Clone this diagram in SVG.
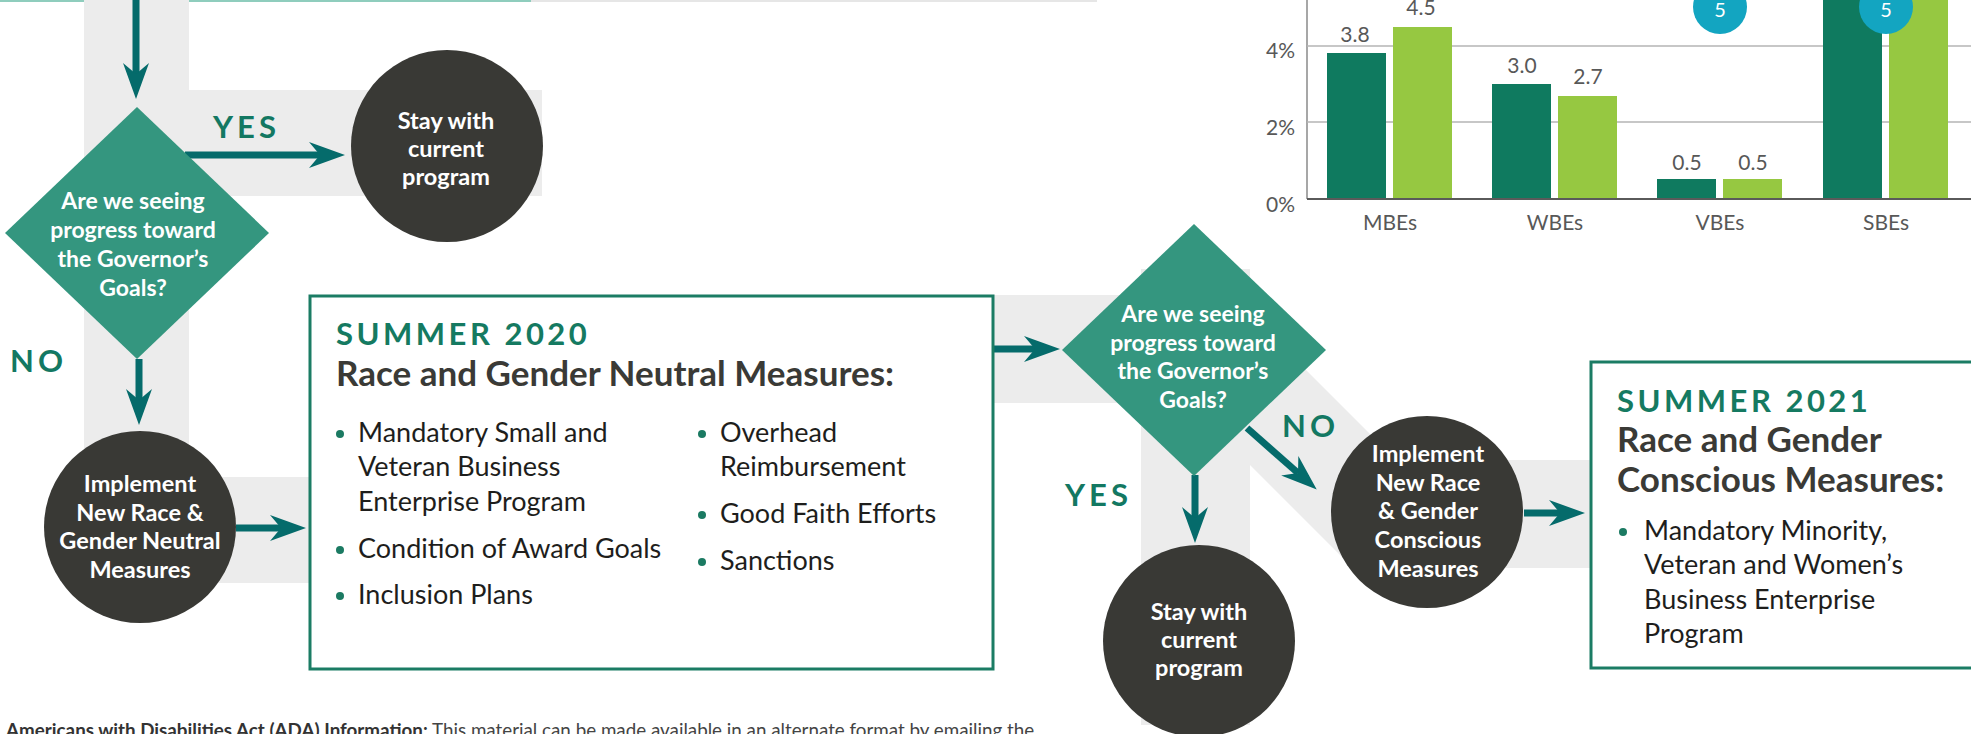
<svg xmlns="http://www.w3.org/2000/svg" width="1971" height="734" viewBox="0 0 1971 734">
<defs>
<style>
.band{fill:#ececec}
.conn{stroke:#056b6b;stroke-width:7;fill:none;marker-end:url(#ah)}
.dia{fill:#34967f}
.circ{fill:#393935}
.wt{font-family:Lato,"Liberation Sans",sans-serif;font-weight:700;font-size:23.5px;fill:#ffffff;text-anchor:middle}
.wd{font-family:Lato,"Liberation Sans",sans-serif;font-weight:700;font-size:23px;fill:#ffffff;text-anchor:middle}
.lbl{font-family:Lato,"Liberation Sans",sans-serif;font-weight:700;font-size:31px;fill:#137862;letter-spacing:4px}
.box{fill:#ffffff;stroke:#1b7c64;stroke-width:3}
.season{font-family:Lato,"Liberation Sans",sans-serif;font-weight:700;font-size:31px;fill:#157a61;letter-spacing:3.5px}
.head{font-family:Lato,"Liberation Sans",sans-serif;font-weight:700;font-size:35px;fill:#3a3a36}
.bul{font-family:Lato,"Liberation Sans",sans-serif;font-size:27px;fill:#1e1e1c}
.dot{fill:#1b7a62}
.ax{font-family:Lato,"Liberation Sans",sans-serif;font-size:21px;fill:#585858}
.dk{fill:#0f7a5f}
.lt{fill:#96c841}
.grid{stroke:#b4b4b4;stroke-width:1.5}
.pin{fill:#13a5c1}
.ada{font-family:Lato,"Liberation Sans",sans-serif;font-size:18.8px;fill:#444444}
</style>
<marker id="ah" markerUnits="userSpaceOnUse" markerWidth="36" markerHeight="28" viewBox="0 0 36 28" refX="11" refY="14" orient="auto">
<path d="M0,1 L36,14 L0,27 L11,14 Z" fill="#056b6b"/>
</marker>
</defs>

<rect x="0" y="0" width="1971" height="734" fill="#ffffff"/>

<g id="background-bands">
<rect x="0" y="0" width="531" height="2" fill="#8fcdbd"/>
<rect x="531" y="0" width="566" height="2" fill="#e6e6e6"/>
<rect class="band" x="84" y="0" width="105" height="583"/>
<rect class="band" x="84" y="90" width="458" height="106"/>
<rect class="band" x="84" y="477" width="226" height="106"/>
<rect class="band" x="993" y="295" width="200" height="108"/>
<rect class="band" x="1141" y="269" width="109" height="456"/>
<polygon class="band" points="1250,314 1470,534 1370,585 1250,465"/>
<rect class="band" x="1427" y="460" width="164" height="108"/>
</g>

<g id="chart">
<line x1="1307" y1="0" x2="1307" y2="199" stroke="#8a8a8a" stroke-width="1.5"/>
<line class="grid" x1="1307" y1="46" x2="1971" y2="46"/>
<line class="grid" x1="1307" y1="122" x2="1971" y2="122"/>
<rect class="dk" x="1327" y="53" width="59" height="146"/>
<rect class="lt" x="1393" y="27" width="59" height="172"/>
<rect class="dk" x="1492" y="84" width="59" height="115"/>
<rect class="lt" x="1558" y="96" width="59" height="103"/>
<rect class="dk" x="1657" y="179" width="59" height="20"/>
<rect class="lt" x="1723" y="179" width="59" height="20"/>
<rect class="dk" x="1823" y="-10" width="59" height="209"/>
<rect class="lt" x="1889" y="-10" width="59" height="209"/>
<line x1="1307" y1="199" x2="1971" y2="199" stroke="#5a5a5a" stroke-width="2"/>
<text class="ax" x="1295" y="58" text-anchor="end">4%</text>
<text class="ax" x="1295" y="135" text-anchor="end">2%</text>
<text class="ax" x="1295" y="212" text-anchor="end">0%</text>
<text class="ax" x="1355" y="42" text-anchor="middle">3.8</text>
<text class="ax" x="1421" y="15" text-anchor="middle">4.5</text>
<text class="ax" x="1522" y="73" text-anchor="middle">3.0</text>
<text class="ax" x="1588" y="84" text-anchor="middle">2.7</text>
<text class="ax" x="1687" y="170" text-anchor="middle">0.5</text>
<text class="ax" x="1753" y="170" text-anchor="middle">0.5</text>
<text class="ax" x="1390" y="230" text-anchor="middle">MBEs</text>
<text class="ax" x="1555" y="230" text-anchor="middle">WBEs</text>
<text class="ax" x="1720" y="230" text-anchor="middle">VBEs</text>
<text class="ax" x="1886" y="230" text-anchor="middle">SBEs</text>
<circle class="pin" cx="1720" cy="7" r="27"/>
<circle class="pin" cx="1886" cy="7" r="27"/>
<text x="1720" y="17" text-anchor="middle" font-family="Lato, 'Liberation Sans', sans-serif" font-size="20" fill="#ffffff">5</text>
<text x="1886" y="17" text-anchor="middle" font-family="Lato, 'Liberation Sans', sans-serif" font-size="20" fill="#ffffff">5</text>
</g>

<g id="connectors">
<path class="conn" d="M136,-5 V74"/>
<path class="conn" d="M185,155 H320"/>
<path class="conn" d="M139,359 V400"/>
<path class="conn" d="M236,528 H281"/>
<path class="conn" d="M993,349 H1035"/>
<path class="conn" d="M1195,475 V518"/>
<path class="conn" d="M1247,428 L1298,473"/>
<path class="conn" d="M1524,513 H1560"/>
</g>

<g id="connector-labels">
<text class="lbl" x="213" y="138">YES</text>
<text class="lbl" x="10" y="372">NO</text>
<text class="lbl" x="1282" y="437">NO</text>
<text class="lbl" x="1065" y="506">YES</text>
</g>

<g id="decision-1">
<polygon class="dia" points="137,107 269,233 137,359 5,233"/>
<text class="wd" x="133" y="209">Are we seeing</text>
<text class="wd" x="133" y="238">progress toward</text>
<text class="wd" x="133" y="267">the Governor’s</text>
<text class="wd" x="133" y="296">Goals?</text>
</g>

<g id="stay-1">
<circle class="circ" cx="447" cy="146" r="96"/>
<text class="wt" x="446" y="129">Stay with</text>
<text class="wt" x="446" y="157">current</text>
<text class="wt" x="446" y="185">program</text>
</g>

<g id="implement-neutral">
<circle class="circ" cx="140" cy="527" r="96"/>
<text class="wt" x="140" y="492">Implement</text>
<text class="wt" x="140" y="521">New Race &amp;</text>
<text class="wt" x="140" y="549">Gender Neutral</text>
<text class="wt" x="140" y="578">Measures</text>
</g>

<g id="summer-2020">
<rect class="box" x="310" y="296" width="683" height="373"/>
<text class="season" x="336" y="345">SUMMER 2020</text>
<text class="head" x="336" y="386">Race and Gender Neutral Measures:</text>
<circle class="dot" cx="340" cy="434" r="4"/>
<text class="bul" x="358" y="442">Mandatory Small and</text>
<text class="bul" x="358" y="476">Veteran Business</text>
<text class="bul" x="358" y="511">Enterprise Program</text>
<circle class="dot" cx="340" cy="550" r="4"/>
<text class="bul" x="358" y="558">Condition of Award Goals</text>
<circle class="dot" cx="340" cy="596" r="4"/>
<text class="bul" x="358" y="604">Inclusion Plans</text>
<circle class="dot" cx="702" cy="434" r="4"/>
<text class="bul" x="720" y="442">Overhead</text>
<text class="bul" x="720" y="476">Reimbursement</text>
<circle class="dot" cx="702" cy="515" r="4"/>
<text class="bul" x="720" y="523">Good Faith Efforts</text>
<circle class="dot" cx="702" cy="562" r="4"/>
<text class="bul" x="720" y="570">Sanctions</text>
</g>

<g id="decision-2">
<polygon class="dia" points="1194,224 1326,350 1194,476 1062,350"/>
<text class="wd" x="1193" y="322">Are we seeing</text>
<text class="wd" x="1193" y="351">progress toward</text>
<text class="wd" x="1193" y="379">the Governor’s</text>
<text class="wd" x="1193" y="408">Goals?</text>
</g>

<g id="stay-2">
<circle class="circ" cx="1199" cy="641" r="96"/>
<text class="wt" x="1199" y="620">Stay with</text>
<text class="wt" x="1199" y="648">current</text>
<text class="wt" x="1199" y="676">program</text>
</g>

<g id="implement-conscious">
<circle class="circ" cx="1427" cy="512" r="96"/>
<text class="wt" x="1428" y="462">Implement</text>
<text class="wt" x="1428" y="491">New Race</text>
<text class="wt" x="1428" y="519">&amp; Gender</text>
<text class="wt" x="1428" y="548">Conscious</text>
<text class="wt" x="1428" y="577">Measures</text>
</g>

<g id="summer-2021">
<rect class="box" x="1591" y="362" width="400" height="306"/>
<text class="season" x="1617" y="412">SUMMER 2021</text>
<text class="head" x="1617" y="452">Race and Gender</text>
<text class="head" x="1617" y="492">Conscious Measures:</text>
<circle class="dot" cx="1623" cy="532" r="4"/>
<text class="bul" x="1644" y="540">Mandatory Minority,</text>
<text class="bul" x="1644" y="574">Veteran and Women’s</text>
<text class="bul" x="1644" y="609">Business Enterprise</text>
<text class="bul" x="1644" y="643">Program</text>
</g>

<g id="ada-note">
<text class="ada" x="6" y="737"><tspan font-weight="700" fill="#333333">Americans with Disabilities Act (ADA) Information:</tspan> This material can be made available in an alternate format by emailing the</text>
</g>
</svg>
